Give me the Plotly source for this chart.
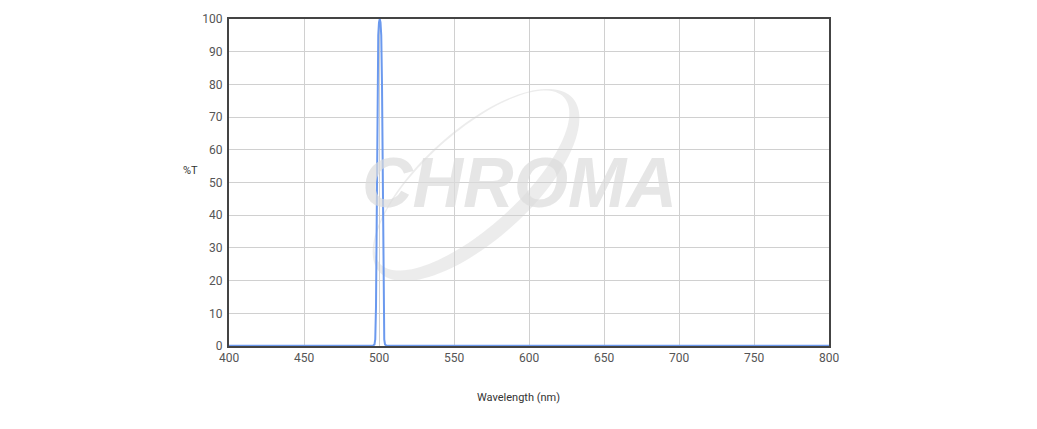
import numpy as np
import plotly.graph_objects as go

# ---- data ----
wavelength = [400, 450, 490, 495, 496, 497, 497.5, 498, 498.5, 499, 499.5, 500,
              500.5, 501, 501.5, 502, 502.5, 503, 503.5, 504, 505, 510, 550, 600,
              650, 700, 750, 800]
transmission = [0.1, 0.1, 0.1, 0.1, 0.1, 0.5, 2, 12, 45, 80, 95, 99,
                100, 99, 95, 80, 45, 12, 2, 0.5, 0.1, 0.1, 0.1, 0.1,
                0.1, 0.1, 0.1, 0.1]
x_ticks = [400, 450, 500, 550, 600, 650, 700, 750, 800]
y_ticks = [0, 10, 20, 30, 40, 50, 60, 70, 80, 90, 100]

W, H = 1037, 429
OFF = 8  # page body margin
# plot area in screenshot pixels
PL, PT, PW, PH = 229, 19, 600, 327

def to_paper(px, py):
    return (px - PL) / PW, (PT + PH - py) / PH

fig = go.Figure()
fig.add_trace(go.Scatter(
    x=wavelength, y=transmission, mode="lines",
    line=dict(color="#6b99ee", width=2), cliponaxis=False,
    hoverinfo="skip", showlegend=False))

# ---- watermark swoosh (decoration) ----
def ellipse_pts(cx, cy, a, b, ang, n=120, rev=False):
    t = np.linspace(0, 2 * np.pi, n, endpoint=False)
    if rev:
        t = t[::-1]
    ca, sa = np.cos(ang), np.sin(ang)
    xs = cx + a * np.cos(t) * ca - b * np.sin(t) * sa
    ys = cy - (a * np.cos(t) * sa + b * np.sin(t) * ca)
    return xs, ys

ang = np.deg2rad(42)
cx, cy = 476, 185
ox, oy = ellipse_pts(cx, cy, 130, 55, ang)
nx, ny = -np.sin(ang), -np.cos(ang)
ix, iy = ellipse_pts(cx + 6 * nx, cy + 6 * ny, 124, 47, ang, rev=True)

def path_of(xs, ys):
    pts = [to_paper(x, y) for x, y in zip(xs, ys)]
    return "M " + " L ".join(f"{p[0]:.4f},{p[1]:.4f}" for p in pts) + " Z"

fig.add_shape(type="path", xref="paper", yref="paper",
              path=path_of(ox, oy) + " " + path_of(ix, iy),
              fillcolor="rgba(228,228,228,0.7)", line=dict(width=0),
              layer="below")

wx, wy = to_paper(519, 183)
fig.add_annotation(x=wx, y=wy, xref="paper", yref="paper", text="<b><i>CHROMA</i></b>",
                   xanchor="center", yanchor="middle",
                   showarrow=False, font=dict(family="Liberation Sans", size=70,
                                              color="rgba(220,220,220,0.7)"))

# ---- axis titles ----
tx, ty = to_paper(190, 170)
fig.add_annotation(x=tx, y=ty, xref="paper", yref="paper", text="%T", showarrow=False,
                   xanchor="center", yanchor="middle",
                   font=dict(family="Roboto", size=11, color="#333"))
xx, xy = to_paper(518, 397)
fig.add_annotation(x=xx, y=xy, xref="paper", yref="paper", text="Wavelength (nm)",
                   xanchor="center", yanchor="middle", showarrow=False,
                   font=dict(family="Roboto", size=11, color="#333"))

axis_common = dict(showgrid=True, gridcolor="#d0d0d0", gridwidth=1,
                   showline=True, linecolor="#444", linewidth=2, mirror=True,
                   zeroline=False, ticks="", automargin=False,
                   tickfont=dict(family="Roboto", size=12, color="#555"))

fig.update_layout(
    width=W, height=H,
    margin=dict(l=PL - OFF, r=W - (PL + PW) + OFF, t=PT - OFF, b=H - (PT + PH) + OFF),
    paper_bgcolor="white", plot_bgcolor="white",
    xaxis=dict(range=[400, 800], tickvals=x_ticks, **axis_common),
    yaxis=dict(range=[0, 100], tickvals=y_ticks, ticklabelstandoff=2, **axis_common),
)

fig.write_html("out.html")
